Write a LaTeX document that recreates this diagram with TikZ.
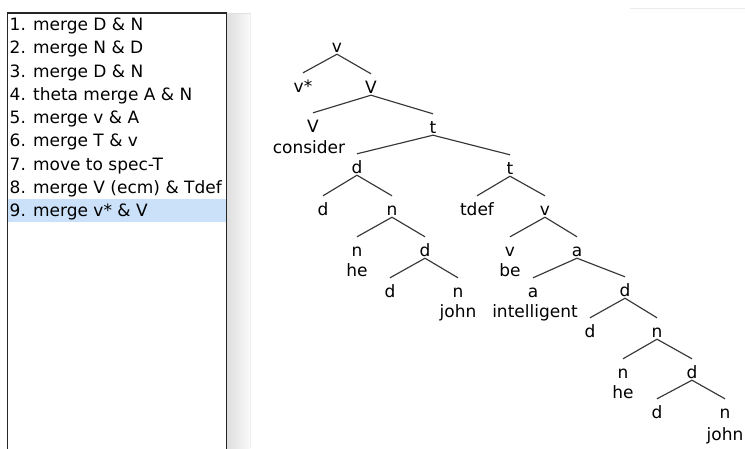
\documentclass[tikz,border=0pt]{standalone}
\usepackage{fontspec}
\setmainfont{DejaVu Sans}
\definecolor{hl}{RGB}{203,225,249}
\definecolor{edgecol}{RGB}{55,55,55}
\begin{document}
\begin{tikzpicture}[x=1pt,y=-1pt,
  lbl/.style={anchor=base,inner sep=0pt,text height=19pt,text depth=2pt,font=\fontsize{17}{20}\selectfont},
  word/.style={anchor=base,inner sep=0pt,font=\fontsize{17}{20}\selectfont},
  br/.style={draw=edgecol,line width=1.15pt},
  item/.style={anchor=base west,inner sep=0pt,font=\fontsize{17}{20}\selectfont}]
\useasboundingbox (0,0) rectangle (745,448);
\clip (0,0) rectangle (745,448);
\fill[white] (0,0) rectangle (745,448);
% panel shadow and frame
\shade[left color=black!13,right color=black!2] (227,13) rectangle (250,448);
\draw[black!7,line width=1pt] (250,13) -- (250,448);
\draw[black!12,line width=1pt] (227,13.3) -- (250,13.3);
\draw[black!8,line width=1.5pt] (630,8.5) -- (745,8.5);
\fill[hl] (8,199.3) rectangle (226,221.7);
\draw[black!85,line width=1.6pt] (7.5,460) -- (7.5,13) -- (226.5,13) -- (226.5,460);
% list items
\node[item] (r1) at (9.5,30.7) {1. merge D \& N};
\node[item] (r2) at (9.5,53.95) {2. merge N \& D};
\node[item] (r3) at (9.5,77.2) {3. merge D \& N};
\node[item] (r4) at (9.5,100.45) {4. theta merge A \& N};
\node[item] (r5) at (9.5,123.7) {5. merge v \& A};
\node[item] (r6) at (9.5,146.95) {6. merge T \& v};
\node[item] (r7) at (9.5,170.2) {7. move to spec-T};
\node[item] (r8) at (9.5,193.45) {8. merge V (ecm) \& Tdef};
\node[item] (r9) at (9.5,216.7) {9. merge v* \& V};
% tree labels
\node[lbl] (root) at (337,52) {v};
\node[lbl] (vs) at (303,92) {v*};
\node[lbl] (V1) at (371,93) {V};
\node[lbl] (V2) at (313,132) {V};
\node[word] (wconsider) at (309,153) {consider};
\node[lbl] (t1) at (433,133) {t};
\node[lbl] (d1) at (357,173) {d};
\node[lbl] (t2) at (510,174) {t};
\node[lbl] (d2) at (323,215) {d};
\node[lbl] (n1) at (392,215) {n};
\node[lbl] (tdef) at (477,215) {tdef};
\node[lbl] (v1) at (545,215) {v};
\node[lbl] (n2) at (357,256) {n};
\node[word] (whe1) at (357,276) {he};
\node[lbl] (d3) at (425,256) {d};
\node[lbl] (v2) at (510,256) {v};
\node[word] (wbe) at (510,276) {be};
\node[lbl] (a1) at (577,256) {a};
\node[lbl] (d4) at (390,297) {d};
\node[lbl] (n3) at (458,297) {n};
\node[word] (wjohn1) at (458,317) {john};
\node[lbl] (a2) at (533,297) {a};
\node[word] (wint) at (535,317) {intelligent};
\node[lbl] (d5) at (625,296) {d};
\node[lbl] (d6) at (590,337) {d};
\node[lbl] (n4) at (657,337) {n};
\node[lbl] (n5) at (623,378) {n};
\node[word] (whe2) at (623,398) {he};
\node[lbl] (d7) at (692,378) {d};
\node[lbl] (d8) at (657,418) {d};
\node[lbl] (n6) at (725,418) {n};
\node[word] (wjohn2) at (725,440) {john};
% branches
\foreach \p/\c in {root/vs,root/V1,V1/V2,V1/t1,t1/d1,t1/t2,d1/d2,d1/n1,n1/n2,n1/d3,d3/d4,d3/n3,t2/tdef,t2/v1,v1/v2,v1/a1,a1/a2,a1/d5,d5/d6,d5/n4,n4/n5,n4/d7,d7/d8,d7/n6}
  \draw[br] (\p.south) -- (\c.north);
\end{tikzpicture}
\end{document}
